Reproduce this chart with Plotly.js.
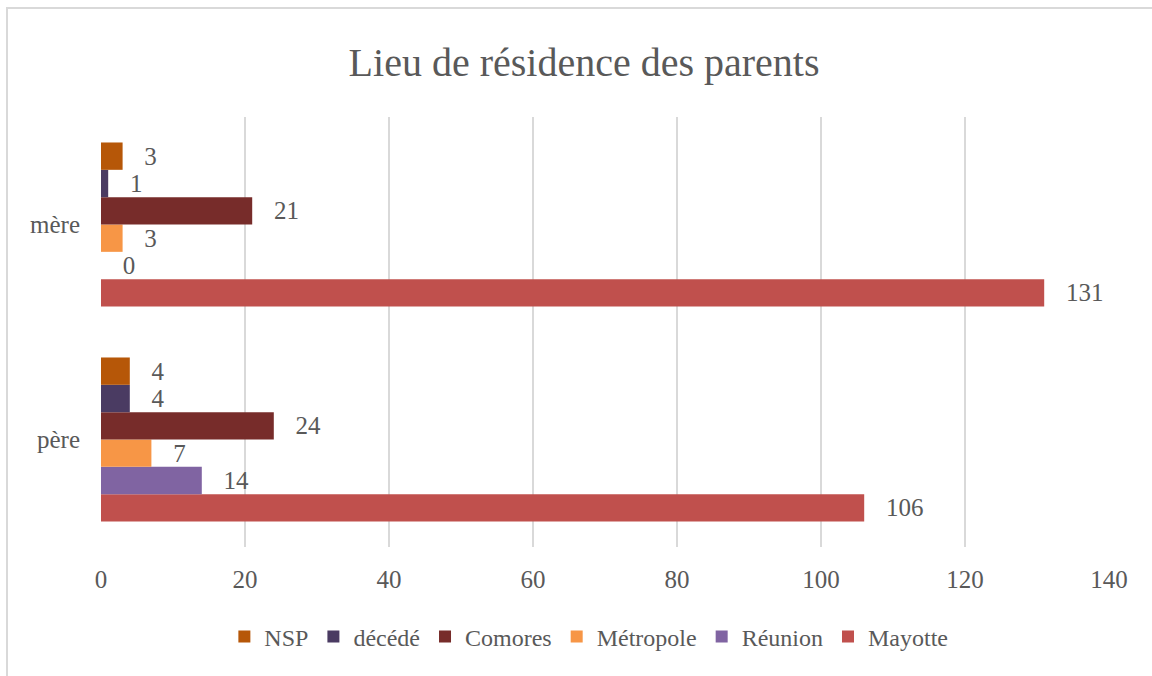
<!DOCTYPE html>
<html>
<head>
<meta charset="utf-8">
<script src="https://cdn.plot.ly/plotly-3.0.1.min.js"></script>
<style>
  html, body { margin: 0; padding: 0; background: #ffffff; }
  #chart { width: 1152px; height: 676px; }
  #frame { position: absolute; left: 6px; top: 7px; width: 1152px; height: 676px;
           border-top: 2px solid #d9d9d9; border-left: 2px solid #d9d9d9; pointer-events: none; }
</style>
</head>
<body>
<div id="chart"></div>
<div id="frame"></div>
<script>
// Categories (bottom to top)
const categories = ['père', 'mère'];

// Series values, in [père, mère] order
const seriesNames = ['Mayotte', 'Réunion', 'Métropole', 'Comores', 'décédé', 'NSP'];
const mayotte   = [106, 131];
const reunion   = [14, 0];
const metropole = [7, 3];
const comores   = [24, 21];
const decede    = [4, 1];
const nsp       = [4, 3];

const seriesValues = [mayotte, reunion, metropole, comores, decede, nsp];
const seriesColors = ['#C0504D', '#8064A2', '#F79646', '#772C2A', '#4A3B62', '#B65708'];

const xTicks = [0, 20, 40, 60, 80, 100, 120, 140];

const FONT = 'Liberation Serif, Times New Roman, serif';
const GREY = '#595959';

const traces = seriesNames.map((name, i) => ({
  type: 'bar',
  orientation: 'h',
  name: name,
  y: categories,
  x: seriesValues[i],
  marker: { color: seriesColors[i], line: { width: 0 } },
  text: seriesValues[i].map(String),
  texttemplate: '\u00a0\u00a0\u00a0%{x}',
  textposition: 'outside',
  constraintext: 'none',
  cliponaxis: false,
  textfont: { family: FONT, size: 25, color: GREY },
  hoverinfo: 'x+name'
}));

const layout = {
  width: 1152,
  height: 676,
  paper_bgcolor: '#ffffff',
  plot_bgcolor: '#ffffff',
  font: { family: FONT, color: GREY, size: 25 },
  title: {
    text: 'Lieu de résidence des parents',
    font: { family: FONT, size: 40, color: GREY },
    x: 0.507, xanchor: 'center',
    y: 0.909, yanchor: 'middle', yref: 'container'
  },
  margin: { l: 101, r: 43, t: 117, b: 129 },
  barmode: 'group',
  bargap: 0.237,
  bargroupgap: 0,
  showlegend: true,
  legend: {
    orientation: 'h',
    traceorder: 'reversed',
    x: 0.484, xanchor: 'center',
    y: -0.209, yanchor: 'middle',
    font: { family: FONT, size: 24, color: GREY },
    itemwidth: 30,
    itemclick: false
  },
  xaxis: {
    range: [0, 140],
    tickvals: xTicks,
    ticktext: xTicks.map(String),
    showgrid: true,
    gridcolor: '#d9d9d9',
    gridwidth: 2,
    zeroline: false,
    showline: false,
    ticks: '',
    ticklabelstandoff: 15,
    tickfont: { family: FONT, size: 25, color: GREY },
    fixedrange: true
  },
  yaxis: {
    type: 'category',
    categoryorder: 'array',
    categoryarray: categories,
    showgrid: false,
    zeroline: false,
    showline: false,
    ticks: '',
    ticklabelstandoff: 20,
    tickfont: { family: FONT, size: 25, color: GREY },
    fixedrange: true
  }
};

Plotly.newPlot('chart', traces, layout, { displayModeBar: false, staticPlot: true });
</script>
</body>
</html>
